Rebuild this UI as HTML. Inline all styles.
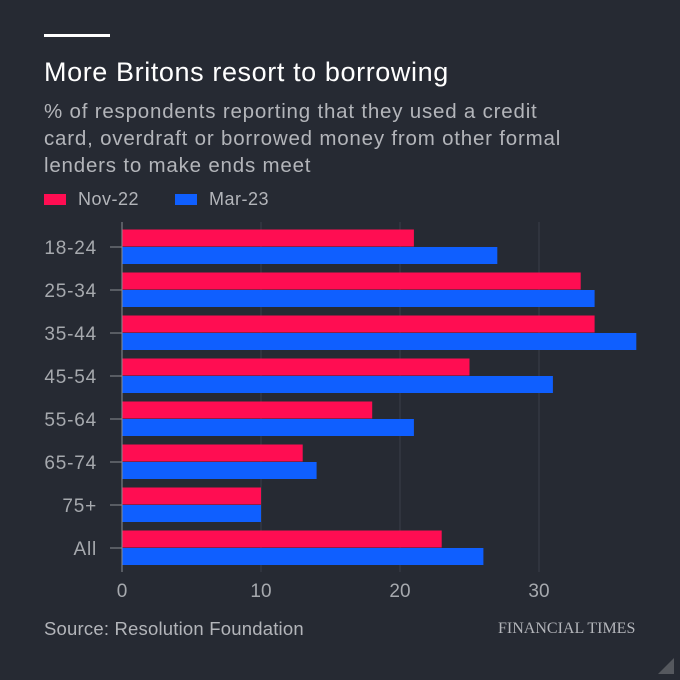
<!DOCTYPE html>
<html><head><meta charset="utf-8"><style>
body{margin:0;background:#262a33;}
#c{position:relative;width:680px;height:680px;background:#262a33;font-family:"Liberation Sans",sans-serif;overflow:hidden}
.t{position:absolute;white-space:nowrap}
</style></head><body>
<div id="c">
<div class="t" style="left:44px;top:34px;width:66px;height:3px;background:#fff"></div>
<div class="t" style="left:44px;top:57px;font-size:27px;letter-spacing:0.6px;color:#fff">More Britons resort to borrowing</div>
<div class="t" style="left:44px;top:98px;font-size:20.5px;letter-spacing:0.8px;line-height:27px;color:#b3b5ba">% of respondents reporting that they used a credit<br>card, overdraft or borrowed money from other formal<br>lenders to make ends meet</div>
<div class="t" style="left:44px;top:194px;width:22px;height:11px;background:#ff0d52"></div>
<div class="t" style="left:78px;top:189px;font-size:18px;letter-spacing:0.5px;color:#b3b5ba">Nov-22</div>
<div class="t" style="left:175px;top:194px;width:22px;height:11px;background:#0f5fff"></div>
<div class="t" style="left:209px;top:189px;font-size:18px;letter-spacing:0.5px;color:#b3b5ba">Mar-23</div>
<svg id="s" width="680" height="680" style="position:absolute;left:0;top:0"></svg>
<div class="t" style="left:44px;top:618px;font-size:18.5px;letter-spacing:0.2px;color:#b3b5ba">Source: Resolution Foundation</div>
<div class="t" style="left:498px;top:620px;font-size:16px;font-family:'Liberation Serif',serif;color:#b3b5ba">FINANCIAL TIMES</div>
<svg width="680" height="680" style="position:absolute;left:0;top:0"><polygon points="674,658 674,674 658,674" fill="#55585e"/></svg>
</div>
<script>
const categories=["18-24","25-34","35-44","45-54","55-64","65-74","75+","All"];
const nov22=[21,33,34,25,18,13,10,23];
const mar23=[27,34,37,31,21,14,10,26];
const xTicks=[0,10,20,30];
const NS="http://www.w3.org/2000/svg";
const s=document.getElementById('s');
const x=v=>122+v*13.9;
const rowY=i=>247+i*43;
function el(t,a){const e=document.createElementNS(NS,t);for(const k in a)e.setAttribute(k,a[k]);s.appendChild(e);return e;}
xTicks.forEach(v=>{
 if(v>0){const g=el('line',{x1:x(v),x2:x(v),y1:222,y2:572,stroke:'#3b3f48','stroke-width':1});
 
 }
 const t=el('text',{x:x(v),y:597,'text-anchor':'middle','font-size':19,fill:'#a6a9ae','font-family':'Liberation Sans,sans-serif'});
 t.textContent=v;
 
 
});
categories.forEach((c,i)=>{
 const y=rowY(i);
 const tk=el('line',{x1:110,x2:122,y1:y,y2:y,stroke:'#8a8d93','stroke-width':1});
 
 
 const t=el('text',{x:97,y:y+7,'text-anchor':'end','font-size':19,'letter-spacing':0.8,fill:'#a6a9ae','font-family':'Liberation Sans,sans-serif'});
 t.textContent=c;
 
 
 const a=el('rect',{x:x(0),y:y-17.5,width:x(nov22[i])-x(0),height:17,fill:'#ff0d52'});
 
 
 const b=el('rect',{x:x(0),y:y,width:x(mar23[i])-x(0),height:17,fill:'#0f5fff'});
 
 
});
const ax=el('line',{x1:122,x2:122,y1:222,y2:572,stroke:'#8a8d93','stroke-width':1});


</script>
</body></html>
